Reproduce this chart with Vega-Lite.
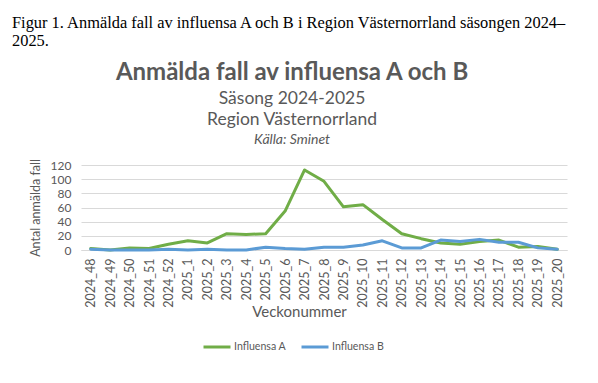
{
  "$schema": "https://vega.github.io/schema/vega-lite/v6.json",
  "background": "white",
  "padding": {"left": 12, "top": 14, "right": 5, "bottom": 5},
  "spacing": 11,
  "resolve": {"legend": {"color": "independent"}},
  "datasets": {
    "fall": [
      {"week": "2024_48", "serie": "Influensa A", "fall": 2},
      {"week": "2024_49", "serie": "Influensa A", "fall": 0},
      {"week": "2024_50", "serie": "Influensa A", "fall": 3},
      {"week": "2024_51", "serie": "Influensa A", "fall": 2},
      {"week": "2024_52", "serie": "Influensa A", "fall": 8},
      {"week": "2025_1", "serie": "Influensa A", "fall": 13},
      {"week": "2025_2", "serie": "Influensa A", "fall": 10},
      {"week": "2025_3", "serie": "Influensa A", "fall": 23},
      {"week": "2025_4", "serie": "Influensa A", "fall": 22},
      {"week": "2025_5", "serie": "Influensa A", "fall": 23},
      {"week": "2025_6", "serie": "Influensa A", "fall": 55},
      {"week": "2025_7", "serie": "Influensa A", "fall": 113},
      {"week": "2025_8", "serie": "Influensa A", "fall": 97},
      {"week": "2025_9", "serie": "Influensa A", "fall": 61},
      {"week": "2025_10", "serie": "Influensa A", "fall": 64},
      {"week": "2025_11", "serie": "Influensa A", "fall": 43},
      {"week": "2025_12", "serie": "Influensa A", "fall": 23},
      {"week": "2025_13", "serie": "Influensa A", "fall": 16},
      {"week": "2025_14", "serie": "Influensa A", "fall": 10},
      {"week": "2025_15", "serie": "Influensa A", "fall": 8},
      {"week": "2025_16", "serie": "Influensa A", "fall": 12},
      {"week": "2025_17", "serie": "Influensa A", "fall": 14},
      {"week": "2025_18", "serie": "Influensa A", "fall": 4},
      {"week": "2025_19", "serie": "Influensa A", "fall": 5},
      {"week": "2025_20", "serie": "Influensa A", "fall": 1},
      {"week": "2024_48", "serie": "Influensa B", "fall": 1},
      {"week": "2024_49", "serie": "Influensa B", "fall": 0},
      {"week": "2024_50", "serie": "Influensa B", "fall": 0},
      {"week": "2024_51", "serie": "Influensa B", "fall": 0},
      {"week": "2024_52", "serie": "Influensa B", "fall": 1},
      {"week": "2025_1", "serie": "Influensa B", "fall": 0},
      {"week": "2025_2", "serie": "Influensa B", "fall": 1},
      {"week": "2025_3", "serie": "Influensa B", "fall": 0},
      {"week": "2025_4", "serie": "Influensa B", "fall": 0},
      {"week": "2025_5", "serie": "Influensa B", "fall": 4},
      {"week": "2025_6", "serie": "Influensa B", "fall": 2},
      {"week": "2025_7", "serie": "Influensa B", "fall": 1},
      {"week": "2025_8", "serie": "Influensa B", "fall": 4},
      {"week": "2025_9", "serie": "Influensa B", "fall": 4},
      {"week": "2025_10", "serie": "Influensa B", "fall": 7},
      {"week": "2025_11", "serie": "Influensa B", "fall": 13},
      {"week": "2025_12", "serie": "Influensa B", "fall": 3},
      {"week": "2025_13", "serie": "Influensa B", "fall": 3},
      {"week": "2025_14", "serie": "Influensa B", "fall": 14},
      {"week": "2025_15", "serie": "Influensa B", "fall": 12},
      {"week": "2025_16", "serie": "Influensa B", "fall": 15},
      {"week": "2025_17", "serie": "Influensa B", "fall": 11},
      {"week": "2025_18", "serie": "Influensa B", "fall": 11},
      {"week": "2025_19", "serie": "Influensa B", "fall": 3},
      {"week": "2025_20", "serie": "Influensa B", "fall": 1}
    ],
    "tom": []
  },
  "vconcat": [
    {
      "width": 1,
      "height": 1,
      "data": {"name": "tom"},
      "mark": "text",
      "encoding": {},
      "title": {
        "text": ["Figur 1. Anmälda fall av influensa A och B i Region Västernorrland säsongen 2024–", "2025."],
        "anchor": "start",
        "font": "Liberation Serif",
        "fontSize": 16.4,
        "fontWeight": "normal",
        "color": "black",
        "lineHeight": 18,
        "offset": 0
      }
    },
    {
      "spacing": 16,
      "resolve": {"legend": {"color": "independent"}},
      "hconcat": [
        {
          "width": 1,
          "height": 1,
          "data": {"name": "tom"},
          "mark": "text",
          "encoding": {}
        },
        {
          "title": {
            "text": "Anmälda fall av influensa A och B",
            "subtitle": ["Säsong 2024-2025", "Region Västernorrland"],
            "anchor": "middle",
            "dx": -6,
            "font": "Lato",
            "fontSize": 24,
            "fontWeight": "bold",
            "color": "#595959",
            "subtitleFont": "Lato",
            "subtitleFontSize": 17.5,
            "subtitleColor": "#595959",
            "subtitleLineHeight": 21,
            "subtitlePadding": 5,
            "offset": 4
          },
          "resolve": {"legend": {"color": "independent"}},
          "vconcat": [
            {
              "width": 486,
              "height": 85,
              "data": {"name": "fall"},
              "title": {
                "text": "Källa: Sminet",
                "anchor": "middle",
                "frame": "bounds",
                "dx": -6,
                "font": "Lato",
                "fontSize": 14,
                "fontStyle": "italic",
                "fontWeight": "normal",
                "color": "#595959",
                "offset": 12
              },
              "mark": {"type": "line", "strokeWidth": 3, "strokeCap": "round", "strokeJoin": "round"},
              "encoding": {
                "x": {
                  "field": "week",
                  "type": "ordinal",
                  "sort": null,
                  "scale": {"type": "point", "padding": 0.5},
                  "axis": {
                    "title": "Veckonummer",
                    "titleX": 218,
                    "titleY": 54,
                    "labelAngle": -90,
                    "labelFont": "Lato",
                    "labelFontSize": 12.5,
                    "labelColor": "#595959",
                    "labelPadding": 8,
                    "ticks": false,
                    "domainColor": "#d9d9d9",
                    "titleFont": "Lato",
                    "titleFontSize": 15,
                    "titleFontWeight": "normal",
                    "titleColor": "#595959"
                  }
                },
                "y": {
                  "field": "fall",
                  "type": "quantitative",
                  "scale": {"domain": [0, 120]},
                  "axis": {
                    "title": "Antal anmälda fall",
                    "values": [0, 20, 40, 60, 80, 100, 120],
                    "labelFont": "Lato",
                    "labelFontSize": 12,
                    "labelColor": "#595959",
                    "labelPadding": 10,
                    "ticks": false,
                    "domain": false,
                    "gridColor": "#d9d9d9",
                    "titleFont": "Lato",
                    "titleFontSize": 12.5,
                    "titleFontWeight": "normal",
                    "titleColor": "#595959",
                    "titlePadding": 8
                  }
                },
                "color": {
                  "field": "serie",
                  "type": "nominal",
                  "scale": {"domain": ["Influensa A", "Influensa B"], "range": ["#70AD47", "#5B9BD5"]},
                  "legend": {
                    "title": null,
                    "orient": "none",
                    "legendX": 121,
                    "legendY": 167,
                    "direction": "horizontal",
                    "symbolType": "stroke",
                    "symbolStrokeWidth": 3,
                    "symbolSize": 729,
                    "labelOffset": 2,
                    "labelFont": "Lato",
                    "labelFontSize": 10.6,
                    "labelColor": "#595959",
                    "columnPadding": 8
                  }
                }
              }
            }
          ]
        }
      ]
    }
  ],
  "config": {
    "view": {"stroke": null}
  }
}
